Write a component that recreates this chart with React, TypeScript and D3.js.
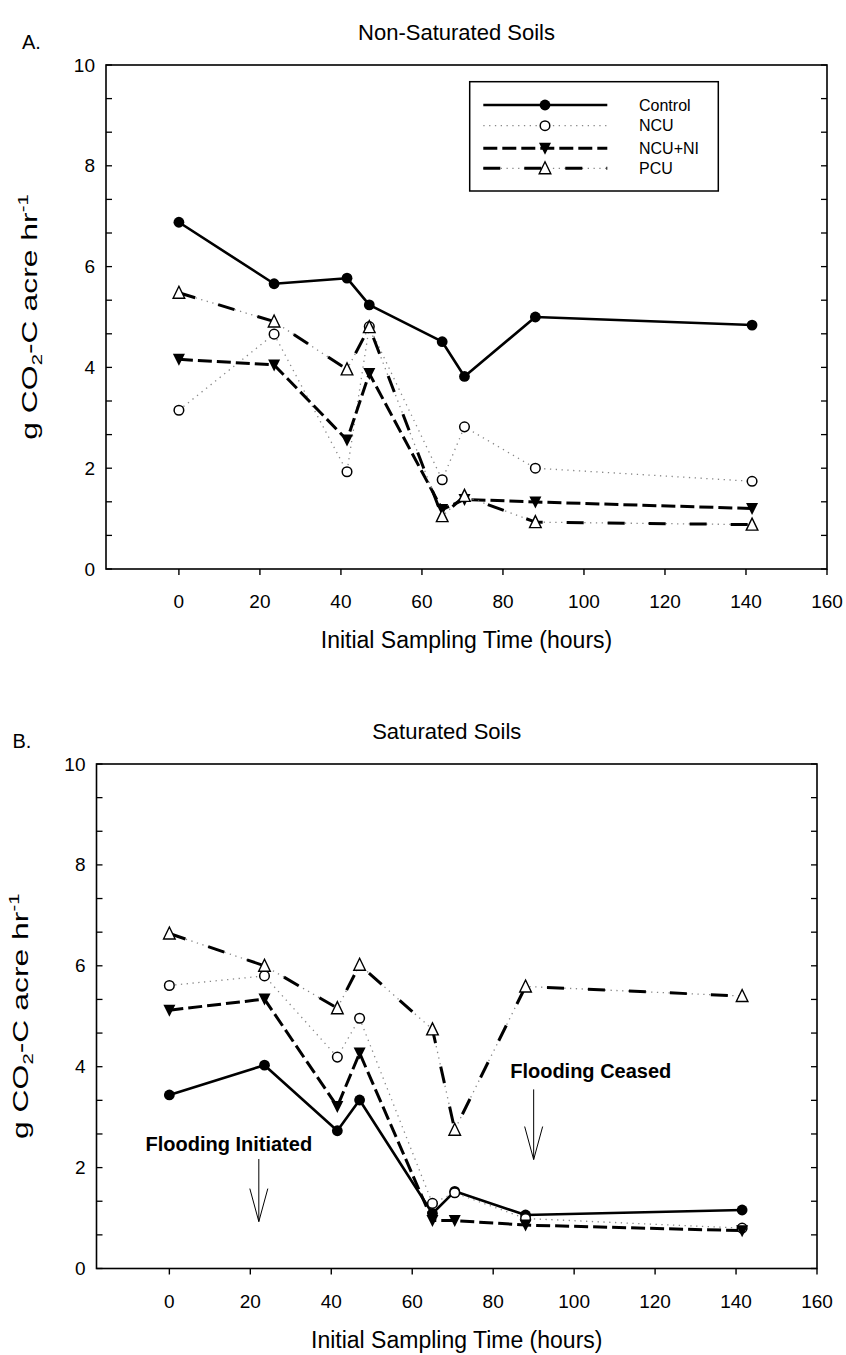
import React from "react";
import * as d3 from "d3";

// ---------- data ----------
const seriesNames = ["Control", "NCU", "NCU+NI", "PCU"];
const hours = [0, 23.5, 41.5, 47, 65, 70.5, 88, 141.5];

const controlA = [6.88, 5.66, 5.77, 5.24, 4.51, 3.82, 5.0, 4.84];
const ncuA = [3.15, 4.66, 1.93, 4.81, 1.77, 2.82, 2.0, 1.74];
const ncuNiA = [4.16, 4.05, 2.56, 3.88, 1.18, 1.38, 1.33, 1.2];
const pcuA = [5.48, 4.91, 3.96, 4.8, 1.05, 1.45, 0.93, 0.88];

const controlB = [3.44, 4.03, 2.73, 3.34, 1.09, 1.53, 1.06, 1.16];
const ncuB = [5.61, 5.8, 4.19, 4.96, 1.29, 1.5, 0.99, 0.8];
const ncuNiB = [5.12, 5.34, 3.21, 4.27, 0.95, 0.95, 0.86, 0.75];
const pcuB = [6.64, 6.0, 5.16, 6.02, 4.74, 2.75, 5.59, 5.4];

const xTicks = [0, 20, 40, 60, 80, 100, 120, 140, 160];
const yTickLabels = [0, 2, 4, 6, 8, 10];
const yMinorTicks = d3.range(0, 16).map((i) => (i * 2) / 3);

// annotations (panel B), in data units
const floodInitiated = { label: "Flooding Initiated", x: 22.1, yTop: 2.17, yTip: 0.93, tx: -5.9, ty: 2.33 };
const floodCeased = { label: "Flooding Ceased", x: 90, yTop: 3.55, yTip: 2.16, tx: 84.2, ty: 3.77 };

const FONT = "Liberation Sans, Arial, Helvetica, sans-serif";

function Marker({ name, cx, cy }: { name: string; cx: number; cy: number }) {
  if (name === "Control") return <circle cx={cx} cy={cy} r={5.4} fill="#000" />;
  if (name === "NCU")
    return <circle cx={cx} cy={cy} r={4.8} fill="#fff" stroke="#000" strokeWidth={1.5} />;
  if (name === "NCU+NI") {
    const w = 6, h = 10;
    return (
      <path
        d={`M${cx - w},${cy - h / 2 - 0.5}L${cx + w},${cy - h / 2 - 0.5}L${cx},${cy + h / 2 + 1.5}Z`}
        fill="#000"
      />
    );
  }
  const w = 5.8, h = 10;
  return (
    <path
      d={`M${cx},${cy - h / 2 - 1.5}L${cx + w},${cy + h / 2 + 0.5}L${cx - w},${cy + h / 2 + 0.5}Z`}
      fill="#fff"
      stroke="#000"
      strokeWidth={1.4}
    />
  );
}

function SeriesLine({ name, d }: { name: string; d: string }) {
  if (name === "Control") return <path d={d} fill="none" stroke="#000" strokeWidth={2.6} strokeLinejoin="round" />;
  if (name === "NCU")
    return <path d={d} fill="none" stroke="#888" strokeWidth={1.3} strokeDasharray="1.3,4.5" />;
  if (name === "NCU+NI")
    return <path d={d} fill="none" stroke="#000" strokeWidth={3} strokeDasharray="14,5" />;
  return (
    <g>
      <path d={d} fill="none" stroke="#888" strokeWidth={1.3} strokeDasharray="1.3,4.5" />
      <path d={d} fill="none" stroke="#000" strokeWidth={3} strokeDasharray="17,24" />
    </g>
  );
}

function Panel({
  left, top, width, height, title, letter, data, legend, annotations,
}: {
  left: number; top: number; width: number; height: number; title: string; letter: string;
  data: number[][]; legend: boolean; annotations: boolean;
}) {
  const x = d3.scaleLinear().domain([-18, 160]).range([left, left + width]);
  const y = d3.scaleLinear().domain([0, 10]).range([top + height, top]);
  const bottom = top + height;
  const right = left + width;
  const line = d3.line<[number, number]>().x((p) => x(p[0])).y((p) => y(p[1]));
  const cx = (left + right) / 2;
  const cyAxis = (top + bottom) / 2;

  const order = [0, 1, 2, 3];

  return (
    <g fontFamily={FONT}>
      <text x={cx - 10} y={top - 25} fontSize={22} textAnchor="middle">{title}</text>
      <text x={left - 84} y={top - 16} fontSize={20}>{letter}</text>

      {/* frame */}
      <rect x={left} y={top} width={width} height={height} fill="none" stroke="#000" strokeWidth={1.6} />

      {/* y ticks left & right */}
      {yMinorTicks.map((v, i) => (
        <g key={"yt" + i}>
          <line x1={left} x2={left + 6} y1={y(v)} y2={y(v)} stroke="#000" strokeWidth={1.3} />
          <line x1={right} x2={right - 6} y1={y(v)} y2={y(v)} stroke="#000" strokeWidth={1.3} />
        </g>
      ))}
      {yTickLabels.map((v) => (
        <text key={"yl" + v} x={left - 11} y={y(v) + 6.5} fontSize={19} textAnchor="end">{v}</text>
      ))}

      {/* x ticks */}
      {xTicks.map((v) => (
        <g key={"xt" + v}>
          <line x1={x(v)} x2={x(v)} y1={bottom} y2={bottom + 6} stroke="#000" strokeWidth={1.4} />
          <text x={x(v)} y={bottom + 39} fontSize={19} textAnchor="middle">{v}</text>
        </g>
      ))}

      <text x={cx} y={bottom + 79} fontSize={23} textAnchor="middle">Initial Sampling Time (hours)</text>

      <text
        transform={`translate(${left - 69},${cyAxis}) rotate(-90) scale(1.45,1)`}
        fontSize={22}
        textAnchor="middle"
      >
        g CO<tspan fontSize={14} dy={5}>2</tspan>
        <tspan dy={-5}>-C acre hr</tspan>
        <tspan fontSize={14} dy={-9}>-1</tspan>
      </text>

      {/* series */}
      {order.map((si) => {
        const pts: [number, number][] = hours.map((h, i) => [h, data[si][i]]);
        return <SeriesLine key={"l" + si} name={seriesNames[si]} d={line(pts) || ""} />;
      })}
      {order.map((si) =>
        hours.map((h, i) => (
          <Marker key={"m" + si + "-" + i} name={seriesNames[si]} cx={x(h)} cy={y(data[si][i])} />
        ))
      )}

      {annotations &&
        [floodInitiated, floodCeased].map((a) => {
          const ax = x(a.x);
          const tip = y(a.yTip);
          return (
            <g key={a.label}>
              <text x={x(a.tx)} y={y(a.ty)} fontSize={20} fontWeight="bold">{a.label}</text>
              <line x1={ax} x2={ax} y1={y(a.yTop)} y2={tip} stroke="#000" strokeWidth={1} />
              <path d={`M${ax - 9},${tip - 33}L${ax},${tip}L${ax + 9},${tip - 33}`} fill="none" stroke="#000" strokeWidth={1} />
            </g>
          );
        })}

      {legend && (
        <g>
          <rect x={469.7} y={81.7} width={248.6} height={109.3} fill="#fff" stroke="#000" strokeWidth={1.5} />
          {seriesNames.map((n, i) => {
            const ry = [105, 125.7, 148.3, 168.3][i];
            return (
              <g key={"lg" + n}>
                <SeriesLine name={n} d={`M483.3,${ry}L607.3,${ry}`} />
                <Marker name={n} cx={545} cy={ry} />
                <text x={639} y={ry + 5.5} fontSize={16}>{n}</text>
              </g>
            );
          })}
        </g>
      )}
    </g>
  );
}

export default function App() {
  return (
    <svg
      width={846}
      height={1355}
      style={{ position: "absolute", left: 0, top: 0, background: "#fff" }}
    >
      <rect width={846} height={1355} fill="#fff" />
      <Panel
        left={106} top={65} width={721} height={504}
        title="Non-Saturated Soils" letter="A."
        data={[controlA, ncuA, ncuNiA, pcuA]}
        legend={true} annotations={false}
      />
      <Panel
        left={96.5} top={764} width={720.5} height={504.5}
        title="Saturated Soils" letter="B."
        data={[controlB, ncuB, ncuNiB, pcuB]}
        legend={false} annotations={true}
      />
    </svg>
  );
}
